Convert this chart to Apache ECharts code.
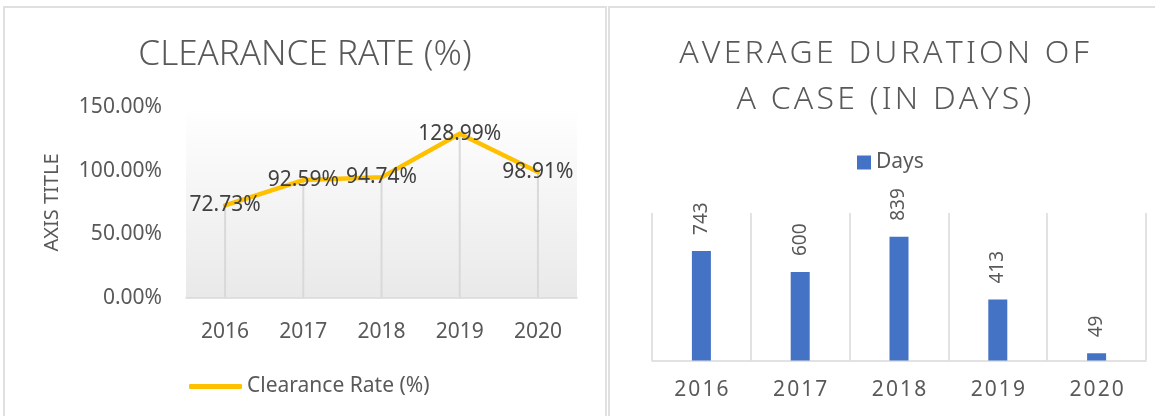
<!DOCTYPE html>
<html>
<head>
<meta charset="utf-8">
<script src="https://cdn.jsdelivr.net/npm/echarts@6/dist/echarts.min.js"></script>
<style>
  html, body { margin: 0; padding: 0; width: 1155px; height: 416px; overflow: hidden; background: #fff; }
  .panel { position: absolute; top: 6px; height: 420px; border: 2px solid #e0e0e0; }
  #left-panel { left: 3px; width: 600px; }
  #right-panel { left: 608px; width: 548px; }
  .chart { width: 100%; height: 100%; }
</style>
</head>
<body>
<div class="panel" id="left-panel"><div class="chart" id="rateChart"></div></div>
<div class="panel" id="right-panel"><div class="chart" id="daysChart"></div></div>
<script>
// data
const years = ['2016', '2017', '2018', '2019', '2020']
const clearanceRate = [72.73, 92.59, 94.74, 128.99, 98.91]
const rateAxisMin = 0
const rateAxisMax = 150
const rateAxisStep = 50
const durationDays = [743, 600, 839, 413, 49]
const daysAxisMax = 1000

const txt = '#595959'
const font = 'Noto Sans'
// excel letter spacing -> hair spaces between characters
const spaced = s => s.split('').join('\u200A')

const rateChart = echarts.init(document.getElementById('rateChart'))
rateChart.setOption({
  animation: false,
  textStyle: { fontFamily: font },
  title: {
    text: 'CLEARANCE RATE (%)',
    left: 'center',
    top: 25,
    textStyle: { fontSize: 35, fontWeight: 300, color: txt, fontFamily: font }
  },
  legend: {
    data: ['Clearance Rate (%)'],
    left: 179,
    top: 363,
    icon: 'roundRect',
    itemWidth: 53,
    itemHeight: 5,
    itemGap: 5,
    textStyle: { fontSize: 21, color: txt, fontFamily: font }
  },
  grid: {
    left: 181, top: 99, width: 391, height: 191,
    show: true,
    borderWidth: 0,
    backgroundColor: new echarts.graphic.LinearGradient(0, 0, 0, 1, [
      { offset: 0, color: '#ffffff' },
      { offset: 1, color: '#e9e9e9' }
    ])
  },
  xAxis: {
    type: 'category',
    data: years,
    axisLine: { lineStyle: { color: '#d9d9d9', width: 1.5 } },
    axisTick: { show: false },
    axisLabel: { color: txt, fontSize: 21, margin: 24, fontFamily: font }
  },
  yAxis: {
    type: 'value',
    min: rateAxisMin,
    max: rateAxisMax,
    interval: rateAxisStep,
    name: 'AXIS TITLE',
    nameLocation: 'middle',
    nameRotate: 90,
    nameGap: 124,
    nameTextStyle: { fontSize: 20, color: txt, fontFamily: font },
    splitLine: { show: false },
    axisLine: { show: false },
    axisTick: { show: false },
    axisLabel: {
      color: txt, fontSize: 21, margin: 24, fontFamily: font,
      formatter: v => v.toFixed(2) + '%'
    }
  },
  series: [
    {
      // drop lines from the points down to the axis
      name: 'drop',
      type: 'bar',
      data: clearanceRate,
      barWidth: 2,
      silent: true,
      itemStyle: { color: '#d9d9d9' },
      z: 1
    },
    {
      name: 'Clearance Rate (%)',
      type: 'line',
      data: clearanceRate,
      symbol: 'circle',
      symbolSize: 1,
      itemStyle: { color: '#FFC000' },
      lineStyle: { color: '#FFC000', width: 4.5, cap: 'round', join: 'round' },
      z: 3,
      label: {
        show: true,
        position: 'inside',
        color: '#404040',
        fontSize: 21,
        fontFamily: font,
        formatter: p => p.value.toFixed(2) + '%'
      }
    }
  ]
})

const daysChart = echarts.init(document.getElementById('daysChart'))
daysChart.setOption({
  animation: false,
  textStyle: { fontFamily: font },
  title: {
    text: spaced('AVERAGE DURATION OF') + '\n' + spaced('A CASE (IN DAYS)'),
    left: 'center',
    top: 18,
    textStyle: { fontSize: 32, fontWeight: 300, color: txt, lineHeight: 46, fontFamily: font }
  },
  legend: {
    data: ['Days'],
    left: 242,
    top: 139,
    icon: 'rect',
    itemWidth: 14,
    itemHeight: 14,
    textStyle: { fontSize: 21, color: txt, fontFamily: font }
  },
  grid: { left: 42, top: 205, width: 494, height: 147.5 },
  xAxis: {
    type: 'category',
    data: years,
    axisLine: { lineStyle: { color: '#d9d9d9', width: 1.5 } },
    axisTick: { show: false },
    splitLine: { show: true, lineStyle: { color: '#d9d9d9', width: 1.5 } },
    axisLabel: { color: txt, fontSize: 21, margin: 19, fontFamily: font, formatter: v => spaced(v) }
  },
  yAxis: {
    type: 'value',
    min: 0,
    max: daysAxisMax,
    show: false
  },
  series: [
    {
      name: 'Days',
      type: 'bar',
      data: durationDays,
      barWidth: 19,
      itemStyle: { color: '#4472C4' },
      label: {
        show: true,
        position: 'top',
        rotate: 90,
        align: 'left',
        verticalAlign: 'middle',
        distance: 16,
        color: txt,
        fontSize: 19,
        fontFamily: font
      }
    }
  ]
})
</script>
</body>
</html>
